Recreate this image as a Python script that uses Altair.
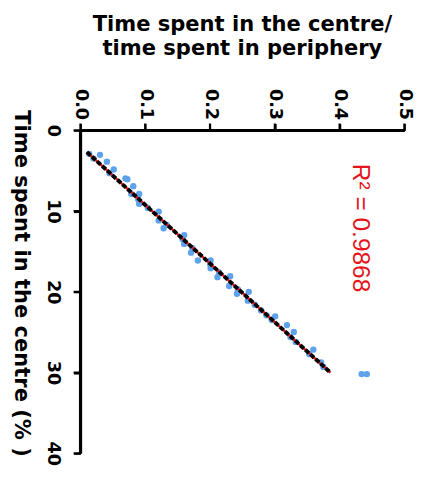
import altair as alt
import pandas as pd

# scatter points (ratio centre/periphery, % time in centre)
ratio = [0.0136, 0.0302, 0.0408, 0.0514, 0.0695, 0.0725, 0.0816, 0.0785, 0.0906, 0.0906,
         0.1208, 0.1208, 0.1284, 0.1601, 0.1601, 0.1707, 0.1813, 0.2009, 0.2009, 0.2115,
         0.2311, 0.2296, 0.2417, 0.2598, 0.2583, 0.2870, 0.3006, 0.3187, 0.3293, 0.3595,
         0.3716, 0.4340, 0.4420,
         0.0203, 0.0450, 0.0890, 0.1041, 0.1330, 0.1578, 0.1729, 0.2004, 0.2141, 0.2430,
         0.2691, 0.2788, 0.2953, 0.3241, 0.3324, 0.3530, 0.3750]
centre = [2.91, 3.03, 3.88, 4.85, 5.94, 6.06, 6.91, 7.88, 7.88, 9.09,
          10.06, 11.15, 12.12, 12.97, 14.06, 15.15, 16.12, 16.12, 17.09, 18.18,
          18.06, 19.27, 20.24, 20.0, 21.09, 22.91, 23.03, 24.12, 24.97, 27.15,
          28.73, 30.18, 30.18,
          3.5, 5.3, 8.5, 9.6, 11.7, 13.5, 14.6, 16.6, 17.6, 19.7,
          21.6, 22.3, 23.5, 25.6, 26.2, 27.7, 29.3]

# fitted line endpoints
fit_ratio = [0.010, 0.386]
fit_centre = [2.7, 30.0]

x_ticks = [0.0, 0.1, 0.2, 0.3, 0.4, 0.5]
y_ticks = [0, 10, 20, 30, 40]
x_domain = [0.0, 0.5]
y_domain = [0, 40]
r2_label = ["R\u00b2 = 0.9868"]
r2_pos_ratio = [0.433]
r2_pos_centre = [12.1]

pts = pd.DataFrame({"ratio": ratio, "centre": centre})
fit = pd.DataFrame({"ratio": fit_ratio, "centre": fit_centre})
ann = pd.DataFrame({"ratio": r2_pos_ratio, "centre": r2_pos_centre, "label": r2_label})
xt = pd.DataFrame({"ratio": x_ticks})
yt = pd.DataFrame({"centre": y_ticks})
xline = pd.DataFrame({"ratio": [x_domain[0]], "ratio2": [x_domain[1]], "centre": [y_domain[0]]})
yline = pd.DataFrame({"ratio": [x_domain[0]], "centre": [y_domain[0]], "centre2": [y_domain[1]]})

BOLD = "DejaVu Sans"
xs = alt.Scale(domain=x_domain, nice=False, zero=False)
ys = alt.Scale(domain=y_domain, reverse=True, nice=False, zero=False)

xaxis = alt.Axis(
    orient="top", values=x_ticks, format=".1f",
    title=["Time spent in the centre/", "time spent in periphery"],
    labelAngle=90, labelAlign="right", labelBaseline="middle",
    labelPadding=4,
    titleX=165, titleY=-119, titleBaseline="top", titleAlign="center", titleLineHeight=24,
    domain=True, ticks=True, zindex=2,
)
yaxis = alt.Axis(
    orient="left", values=y_ticks, format="d",
    title="Time spent in the centre (% )",
    labelAngle=90, labelAlign="center", labelBaseline="top",
    labelPadding=13,
    titleAngle=90, titleX=-61, titleY=156, titleBaseline="middle", titleAlign="center",
    domain=True, ticks=True, zindex=2,
)

X = alt.X("ratio:Q", scale=xs, axis=xaxis)
Y = alt.Y("centre:Q", scale=ys, axis=yaxis)

points = alt.Chart(pts).mark_circle(size=42, color="#5da2ea", opacity=1).encode(x=X, y=Y)
red = alt.Chart(fit).mark_line(color="#e3141c", strokeWidth=2.4).encode(x=X, y=Y)
black = alt.Chart(fit).mark_line(color="black", strokeWidth=4, strokeDash=[5, 2]).encode(x=X, y=Y)
text = alt.Chart(ann).mark_text(angle=90, fontSize=25, font="Liberation Sans", color="#e3141c",
                                align="center", baseline="middle").encode(
    x=X, y=Y, text="label:N"
)
# axis lines and outward ticks, drawn through the scales
top_line = alt.Chart(xline).mark_rule(color="black", strokeWidth=3).encode(
    x=X, x2="ratio2:Q", y=Y
)
left_line = alt.Chart(yline).mark_rule(color="black", strokeWidth=3).encode(
    x=X, y=Y, y2="centre2:Q"
)
top_ticks = alt.Chart(xt).mark_rule(color="black", strokeWidth=2.2).encode(
    x=X, y=alt.value(-7), y2=alt.value(0)
)
left_ticks = alt.Chart(yt).mark_rule(color="black", strokeWidth=2.2).encode(
    y=Y, x=alt.value(-7), x2=alt.value(0)
)

chart = alt.layer(points, red, black, text, top_line, left_line, top_ticks, left_ticks).properties(
    width=331, height=330,
    padding={"left": 74, "top": 120, "right": 18, "bottom": 12},
    autosize="none",
    background="white",
).configure_view(
    stroke=None
).configure_axis(
    grid=False,
    domain=True, domainColor="black", domainWidth=2.5,
    ticks=True, tickColor="black", tickWidth=2, tickSize=7,
    labelFont=BOLD, labelFontSize=18, labelFontWeight="bold", labelColor="black",
    labelFlush=False, labelOverlap=False,
    titleFont=BOLD, titleFontSize=21.5, titleFontWeight="bold", titleColor="black",
)

chart.save("out.html", embed_options={"renderer": "svg", "actions": False})
